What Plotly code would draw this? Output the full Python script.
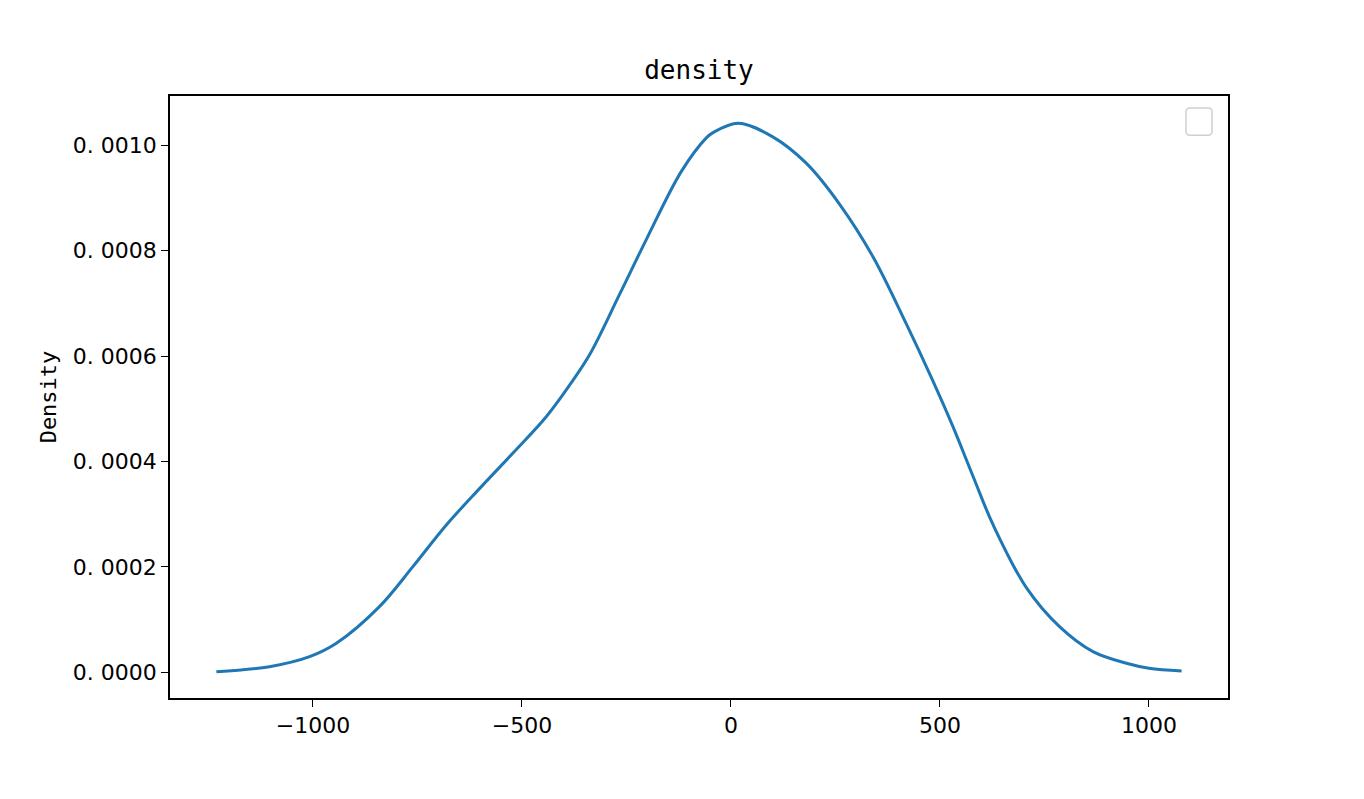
import plotly.graph_objects as go

# KDE curve
x_vals = [-1231, -1104, -1008, -944, -841, -761, -681, -601, -522, -442, -386,
          -338, -266, -202, -119, -59, -43, 17, 100, 180, 260, 340, 420, 480, 531,
          579, 627, 707, 786, 866, 946, 1000, 1078]
density = [0.0000011, 0.0000106, 0.0000296, 0.000055, 0.0001245, 0.0002004,
           0.0002795, 0.000349, 0.0004156, 0.000485, 0.000545, 0.000603, 0.000718,
           0.000822, 0.00095, 0.001014, 0.001024, 0.001042, 0.001016, 0.000966,
           0.000888, 0.000788, 0.000660, 0.000558, 0.000466, 0.000372, 0.000280,
           0.000160, 0.0000865, 0.0000391, 0.0000171, 0.0000076, 0.0000025]

x_ticks = [-1000, -500, 0, 500, 1000]
y_ticks = [0.0, 0.0002, 0.0004, 0.0006, 0.0008, 0.0010]
y_tick_text = ["0. 0000", "0. 0002", "0. 0004", "0. 0006", "0. 0008", "0. 0010"]

TICK_FONT = "DejaVu Sans, sans-serif"
MONO = "DejaVu Sans Mono, monospace"

fig = go.Figure()
fig.add_trace(go.Scatter(x=x_vals, y=density, mode="lines", line_shape="spline",
                         line=dict(color="#1f77b4", width=3, smoothing=1.0),
                         showlegend=False))

axis_common = dict(showline=True, linecolor="black", linewidth=1.5, mirror=True,
                   ticks="outside", ticklen=7, tickwidth=1.3, tickcolor="black",
                   showgrid=False, zeroline=False,
                   tickfont=dict(family=TICK_FONT, size=22, color="black"))

fig.update_layout(
    width=1364, height=799,
    margin=dict(l=162, r=144, t=88, b=109),
    paper_bgcolor="white", plot_bgcolor="white",
    title=dict(text="density", x=0.5066, xanchor="center", y=0.9224, yanchor="middle",
               font=dict(family=MONO, size=26, color="black")),
    xaxis=dict(range=[-1342, 1189], tickvals=x_ticks, **axis_common),
    yaxis=dict(range=[-0.0000488, 0.0010935], tickvals=y_ticks, ticktext=y_tick_text,
               title=dict(text="Density", font=dict(family=MONO, size=22, color="black"),
                          standoff=10),
               **axis_common),
    shapes=[dict(type="path", xref="paper", yref="paper",
                 path="M 0.9641,0.980 L 0.9811,0.980 Q 0.9849,0.980 0.9849,0.9734 "
                      "L 0.9849,0.9416 Q 0.9849,0.935 0.9811,0.935 L 0.9641,0.935 "
                      "Q 0.9603,0.935 0.9603,0.9416 L 0.9603,0.9734 Q 0.9603,0.980 0.9641,0.980 Z",
                 line=dict(color="#d0d0d0", width=1.5), fillcolor="rgba(255,255,255,0.8)")],
)

fig.write_html("out.html")
